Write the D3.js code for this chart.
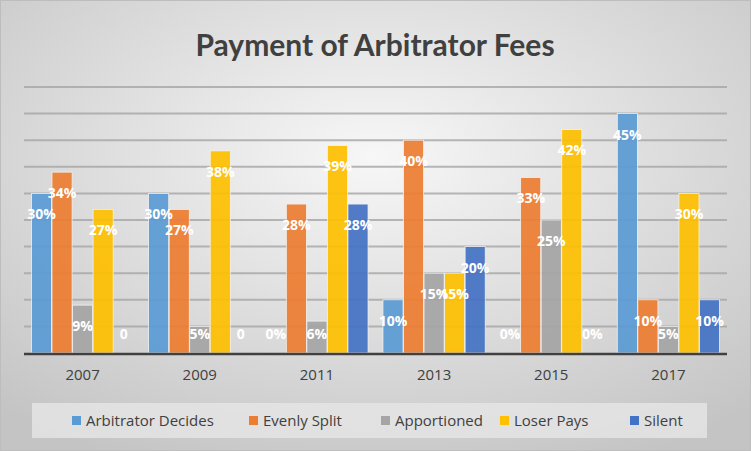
<!DOCTYPE html>
<html><head><meta charset="utf-8">
<script src="https://cdn.jsdelivr.net/npm/d3@7"></script>
<style>body{margin:0}svg{display:block}</style></head>
<body><svg id="c" width="751" height="451"></svg>
<script>
const years=["2007","2009","2011","2013","2015","2017"];
const seriesNames=["Arbitrator Decides","Evenly Split","Apportioned","Loser Pays","Silent"];
const colors=["#5B9BD5","#ED7D31","#A5A5A5","#FFC000","#4472C4"];
const arbitratorDecides=[30,30,0,10,0,45];
const evenlySplit=[34,27,28,40,33,10];
const apportioned=[9,5,6,15,25,5];
const loserPays=[27,38,39,15,42,30];
const silent=[0,0,28,20,0,10];
const labelTexts=[["30%","34%","9%","27%","0"],["30%","27%","5%","38%","0"],["0%","28%","6%","39%","28%"],["10%","40%","15%","15%","20%"],["0%","33%","25%","42%","0%"],["45%","10%","5%","30%","10%"]];
const series=[arbitratorDecides,evenlySplit,apportioned,loserPays,silent];

const svg=d3.select("#c");
const defs=svg.append("defs");
const g0=defs.append("radialGradient").attr("id","bg").attr("cx","50%").attr("cy","35%").attr("r","75%");
g0.append("stop").attr("offset","0%").attr("stop-color","#f7f7f7");
g0.append("stop").attr("offset","100%").attr("stop-color","#c4c4c4");
svg.append("rect").attr("x",0.5).attr("y",0.5).attr("width",750).attr("height",450).attr("fill","url(#bg)").attr("stroke","#bdbdbd");

svg.append("text").attr("x",375).attr("y",56).attr("text-anchor","middle")
 .attr("font-family","Lato, 'Open Sans', sans-serif").attr("font-weight","bold").attr("font-size",30).attr("fill","#404040").text("Payment of Arbitrator Fees");

const x0=d3.scaleBand().domain(years).range([24,727]).paddingInner(0.12).paddingOuter(0.06);
const x1=d3.scaleBand().domain(d3.range(5)).range([0,x0.bandwidth()]).padding(0.02);
const y=d3.scaleLinear().domain([0,50]).range([353,87]);

const grid=svg.append("g");
y.ticks(10).forEach(t=>{ if(t>0) grid.append("line").attr("x1",24).attr("x2",727).attr("y1",y(t)).attr("y2",y(t)).attr("stroke","#a6a6a6").attr("stroke-width",2).attr("opacity",0.8);});

const bars=svg.append("g");
years.forEach((yr,i)=>{
 series.forEach((s,j)=>{
  const v=s[i];
  if(v>0) bars.append("rect").attr("x",x0(yr)+x1(j)).attr("y",y(v)).attr("width",x1.bandwidth()).attr("height",y(0)-y(v))
    .attr("fill",colors[j]).attr("opacity",0.92).attr("stroke","#f4f4f4").attr("stroke-width",0.8);
 });
});
svg.append("line").attr("x1",24).attr("x2",727).attr("y1",y(0)+1).attr("y2",y(0)+1).attr("stroke","#404040").attr("stroke-width",2.5);

const labs=svg.append("g");
years.forEach((yr,i)=>{
 series.forEach((s,j)=>{
  const v=s[i];
  const ly=Math.min(y(v)+21,y(0)-19);
  labs.append("text").attr("x",x0(yr)+x1(j)+x1.bandwidth()/2).attr("y",ly).attr("dy","0.35em").attr("text-anchor","middle")
   .attr("font-family","'Open Sans', sans-serif").attr("font-weight","bold").attr("font-size",14).attr("fill","#fff").text(labelTexts[i][j]);
 });
});

const ax=svg.append("g").attr("transform","translate(0,"+(y(0)+2)+")").call(d3.axisBottom(x0).tickSize(0).tickPadding(14));
ax.select(".domain").remove();
ax.selectAll("text").attr("font-family","'Open Sans', sans-serif").attr("font-size",15).attr("fill","#404040");

svg.append("rect").attr("x",32).attr("y",403).attr("width",675).attr("height",35).attr("fill","#e6e6e6").attr("opacity",0.8);
const legX=[72,249,381,500,630];
seriesNames.forEach((n,j)=>{
 svg.append("rect").attr("x",legX[j]).attr("y",416).attr("width",9).attr("height",9).attr("fill",colors[j]);
 svg.append("text").attr("x",legX[j]+14).attr("y",421).attr("dy","0.35em").attr("font-family","'Open Sans', sans-serif").attr("font-size",15).attr("fill","#404040").text(n);
});
</script></body></html>
